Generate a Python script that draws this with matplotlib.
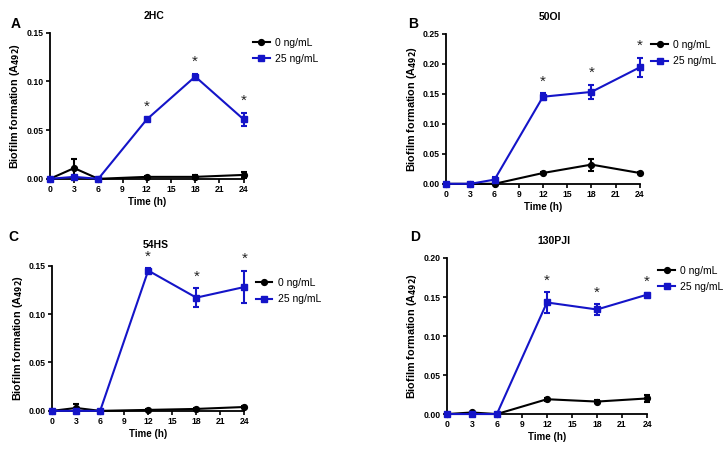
import numpy as np
import matplotlib.pyplot as plt

plt.rcParams['font.family'] = ['Liberation Sans', 'DejaVu Sans']

time_h = [0, 3, 6, 12, 18, 24]

# 2HC
a_ctrl = [0.000, 0.011, 0.000, 0.002, 0.002, 0.004]
a_ctrl_err = [0.000, 0.009, 0.000, 0.001, 0.002, 0.003]
a_25 = [0.000, 0.002, 0.000, 0.061, 0.105, 0.061]
a_25_err = [0.000, 0.001, 0.000, 0.001, 0.003, 0.007]

# 50OI
b_ctrl = [0.000, 0.000, 0.000, 0.018, 0.032, 0.018]
b_ctrl_err = [0.000, 0.000, 0.000, 0.002, 0.010, 0.002]
b_25 = [0.000, 0.000, 0.007, 0.145, 0.153, 0.194]
b_25_err = [0.000, 0.000, 0.005, 0.006, 0.012, 0.016]

# 54HS
c_ctrl = [0.000, 0.003, 0.000, 0.001, 0.002, 0.004]
c_ctrl_err = [0.000, 0.004, 0.000, 0.001, 0.001, 0.001]
c_25 = [0.000, 0.000, 0.000, 0.145, 0.117, 0.128]
c_25_err = [0.000, 0.000, 0.000, 0.003, 0.010, 0.017]

# 130PJI
d_ctrl = [0.000, 0.002, 0.000, 0.019, 0.016, 0.020]
d_ctrl_err = [0.000, 0.001, 0.000, 0.002, 0.002, 0.004]
d_25 = [0.000, 0.000, 0.000, 0.143, 0.134, 0.153]
d_25_err = [0.000, 0.000, 0.000, 0.013, 0.007, 0.002]

panels = [
    # letter, title, ctrl, ctrl_err, treat, treat_err, ymax, rect, letter pos, legend pos, title y
    ('A', '2HC', a_ctrl, a_ctrl_err, a_25, a_25_err, 0.15,
     [0.069, 0.607, 0.268, 0.321], (0.015, 0.947), (1.00, 1.03), 0.965),
    ('B', '50OI', b_ctrl, b_ctrl_err, b_25, b_25_err, 0.25,
     [0.617, 0.596, 0.268, 0.330], (0.565, 0.947), (1.01, 1.02), 0.962),
    ('C', '54HS', c_ctrl, c_ctrl_err, c_25, c_25_err, 0.15,
     [0.072, 0.097, 0.266, 0.319], (0.012, 0.480), (1.01, 0.98), 0.462),
    ('D', '130PJI', d_ctrl, d_ctrl_err, d_25, d_25_err, 0.20,
     [0.618, 0.090, 0.277, 0.343], (0.567, 0.480), (1.01, 1.01), 0.470),
]
star_idx = [3, 4, 5]

fig = plt.figure(figsize=(7.23, 4.55), dpi=100)
for letter, title, ctrl, ctrl_err, trt, trt_err, ymax, rect, lpos, legpos, ty in panels:
    ax = fig.add_axes(rect)
    e1 = ax.errorbar(time_h, ctrl, yerr=ctrl_err, color='black', marker='o', ms=4.2,
                     lw=1.5, capsize=2.5, capthick=1.5, elinewidth=1.5, clip_on=False, zorder=3)
    e2 = ax.errorbar(time_h, trt, yerr=trt_err, color='#1414c8', marker='s', ms=4.2,
                     lw=1.5, capsize=2.5, capthick=1.5, elinewidth=1.5, clip_on=False, zorder=4)
    for i in star_idx:
        ax.text(time_h[i], trt[i] + trt_err[i] + ymax * 0.03, '*', ha='center', va='bottom',
                fontsize=11, color='#222222')
    ax.set_xlim(0, 24)
    ax.set_ylim(0, ymax)
    ax.set_xticks(range(0, 25, 3))
    yt = np.arange(0, ymax + 1e-9, 0.05)
    ax.set_yticks(yt)
    ax.set_yticklabels([f'{v:.2f}' for v in yt])
    for s in ['top', 'right']:
        ax.spines[s].set_visible(False)
    for s in ['left', 'bottom']:
        ax.spines[s].set_linewidth(1.3)
    ax.tick_params(axis='both', direction='out', length=3, width=1.2, labelsize=6.2, pad=1.5)
    for lab in ax.get_xticklabels() + ax.get_yticklabels():
        lab.set_fontweight('bold')
    ax.set_xlabel('Time (h)', fontsize=7, fontweight='bold', labelpad=2)
    ax.set_ylabel('Biofilm formation (A$_{\\mathbf{492}}$)', fontsize=7.8, fontweight='bold', labelpad=3)
    ax.legend([e1[0], e2[0]], ['0 ng/mL', '25 ng/mL'], loc='upper left', bbox_to_anchor=legpos,
              frameon=False, fontsize=7.5, handlelength=1.6, handletextpad=0.5, labelspacing=0.6)
    fig.text(rect[0] + rect[2] / 2 + 0.01, ty, title, ha='center', va='center',
             fontsize=7.5, fontweight='bold')
    fig.text(lpos[0], lpos[1], letter, ha='left', va='center', fontsize=10, fontweight='bold')

fig.savefig('out.png', dpi=100)
